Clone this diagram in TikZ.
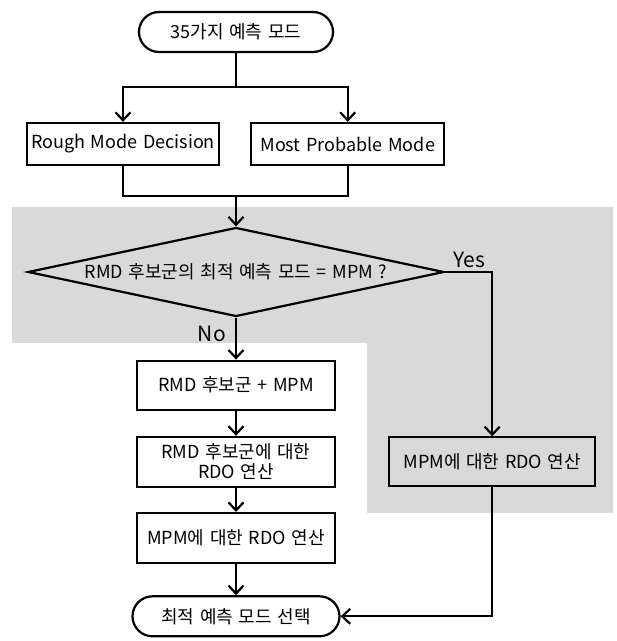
\documentclass[tikz,border=0pt]{standalone}
\usepackage{fontspec}
\setmainfont{Noto Sans CJK KR}[WordSpace=1.4]
\usepackage{tikz}
\usetikzlibrary{arrows.meta, positioning, shapes}
\definecolor{my_gray}{RGB}{217, 217, 217}
\tikzset {
  terminal/.style = {draw, line width=2.2pt, rectangle, rounded corners=20pt, fill=white, text centered, minimum height=40pt, inner sep=2pt},
  process/.style = {draw, line width=2.2pt, rectangle, fill=white, text centered, align=center, minimum height=49pt, minimum width=198pt, inner sep=2pt},
  decision/.style = {draw, line width=2.2pt, diamond, aspect=4.67, inner sep=0pt, minimum width=416pt, minimum height=89pt},
  line/.style = {-{Straight Barb[length=8pt, width=15pt, line width=2.2pt]}, line width=2.2pt, color=black},
  conn/.style = {line width=2.2pt, color=black},
  answer/.style = {font=\fontsize{21}{24}\selectfont, inner sep=1pt}
}

\begin{document}
\begin{tikzpicture}[x=1pt, y=1pt, font=\fontsize{18}{20}\selectfont]
    \useasboundingbox (0,0) rectangle (617,641);

    % shaded area
    \fill[my_gray] (12,434) -- (613,434) -- (613,128) -- (367,128) -- (367,298) -- (12,298) -- cycle;

    \node[terminal, minimum width=194pt] (start) at (236,609) {35가지 예측 모드};

    \node[process, minimum width=192pt, minimum height=42pt] (rmd) at (123,497) {Rough Mode Decision};
    \node[process, minimum width=193pt, minimum height=42pt, right=30pt of rmd] (mpm) {Most Probable Mode};

    \node[decision] (dec) at (236,369) {RMD 후보군의 최적 예측 모드 = MPM ?};

    \node[process, below=42pt of dec] (cand) {RMD 후보군 + MPM};
    \node[process, minimum height=50pt, below=25pt of cand] (rdoa) {RMD 후보군에 대한\\RDO 연산};
    \node[process, minimum height=50pt, below=24pt of rdoa] (rdob) {MPM에 대한 RDO 연산};
    \node[terminal, minimum width=207pt, below=31pt of rdob] (fin) {최적 예측 모드 선택};

    \node[process, fill=my_gray, minimum width=206pt, right=52pt of rdoa] (rdoy) {MPM에 대한 RDO 연산};

    \coordinate (split) at (236,554);
    \coordinate (join) at (236,445);

    \draw[conn] (start.south) -- (split);
    \draw[line] (split) -| (rmd.north);
    \draw[line] (split) -| (mpm.north);

    \draw[conn] (rmd.south) |- (join);
    \draw[conn] (mpm.south) |- (join);
    \draw[line] (join) -- (dec.north);

    \draw[line] (dec.east) -| node[answer, pos=0.26, above=2pt] {Yes} (rdoy.north);
    \draw[line] (dec.south) -- node[answer, pos=0.38, left=8pt] {No} (cand.north);

    \draw[line] (cand) -- (rdoa);
    \draw[line] (rdoa) -- (rdob);
    \draw[line] (rdob) -- (fin);
    \draw[line] (rdoy.south) |- (fin.east);

\end{tikzpicture}
\end{document}
